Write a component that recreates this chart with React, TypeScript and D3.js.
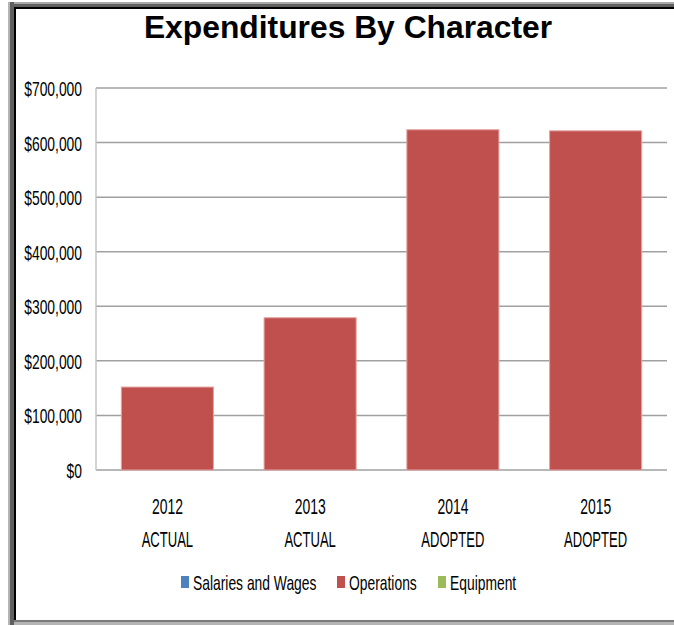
import React from "react";
import * as d3 from "d3";

const categories = ["2012 ACTUAL", "2013 ACTUAL", "2014 ADOPTED", "2015 ADOPTED"];
const seriesNames = ["Salaries and Wages", "Operations", "Equipment"];
const salaries = [0, 0, 0, 0];
const operations = [152000, 279000, 623500, 621500];
const equipment = [0, 0, 0, 0];
const yTicks = [0, 100000, 200000, 300000, 400000, 500000, 600000, 700000];
const colors = ["#4F81BD", "#C0504D", "#9BBB59"];

const W = 674;
const H = 625;
const M = { left: 96, right: 667, top: 88, bottom: 470 };
const FONT = "'Liberation Sans', Arial, sans-serif";

export default function App() {
  const rows = categories.map((c, i) => ({
    cat: c,
    [seriesNames[0]]: salaries[i],
    [seriesNames[1]]: operations[i],
    [seriesNames[2]]: equipment[i],
  }));
  const stacked = d3.stack<any>().keys(seriesNames)(rows);

  const x = d3
    .scaleBand<string>()
    .domain(categories)
    .range([M.left, M.right])
    .paddingInner(0.355)
    .paddingOuter(0.1775);
  const y = d3.scaleLinear().domain([0, 700000]).range([M.bottom, M.top]);
  const fmt = (v: number) => "$" + d3.format(",")(v);

  const legendX = [181, 337, 438];

  return (
    <svg
      width={W}
      height={H}
      style={{ position: "absolute", left: 0, top: 0, background: "#fff" }}
    >
      {/* frame */}
      <rect x={0} y={0} width={W} height={H} fill="#fff" />
      <rect x={10} y={2} width={W - 10} height={2} fill="#a8a8a8" />
      <rect x={10} y={4} width={W - 10} height={3} fill="#606060" />
      <rect x={14} y={7} width={W - 14} height={2} fill="#000" />
      <rect x={8} y={2} width={2} height={H - 2} fill="#b4b4b4" />
      <rect x={10} y={2} width={4} height={H - 2} fill="#606060" />
      <rect x={14} y={7} width={2} height={615} fill="#000" />
      <rect x={14} y={620} width={W - 14} height={2} fill="#7a7a7a" />
      <rect x={14} y={622} width={W - 14} height={3} fill="#b4b4b4" />

      {/* title */}
      <text
        x={348}
        y={38}
        textAnchor="middle"
        fontFamily="'Liberation Sans', Arial, sans-serif"
        fontWeight="bold"
        fontSize={31.8}
        fill="#000"
      >
        Expenditures By Character
      </text>

      {/* gridlines */}
      {yTicks.map((t) => (
        <line
          key={"g" + t}
          x1={M.left}
          x2={M.right}
          y1={y(t)}
          y2={y(t)}
          stroke="#a0a0a0"
          strokeWidth={1.5}
        />
      ))}
      <line x1={M.left} x2={M.left} y1={M.top} y2={M.bottom} stroke="#c4c4c4" strokeWidth={1.5} />

      {/* y labels */}
      {yTicks.map((t) => (
        <text
          key={"t" + t}
          transform={`translate(82,${y(t) + 8}) scale(0.66,1)`}
          textAnchor="end"
          fontFamily={FONT}
          fontSize={21}
          fill="#000"
        >
          {fmt(t)}
        </text>
      ))}

      {/* bars */}
      {stacked.map((s, si) => (
        <g key={s.key} fill={colors[si]}>
          {s.map((d, i) =>
            d[1] - d[0] > 0 ? (
              <rect
                key={i}
                x={x(categories[i])!}
                width={x.bandwidth()}
                y={y(d[1])}
                height={y(d[0]) - y(d[1])}
                stroke="#E3A3A1"
                strokeWidth={1}
              />
            ) : null
          )}
        </g>
      ))}

      {/* x labels */}
      {categories.map((c) => {
        const [l1, l2] = c.split(" ");
        const cx = x(c)! + x.bandwidth() / 2;
        return (
          <g key={c} fontFamily={FONT} fontSize={22.5} fill="#000" textAnchor="middle">
            <text transform={`translate(${cx},514) scale(0.62,1)`}>{l1}</text>
            <text transform={`translate(${cx},547) scale(0.58,1)`}>{l2}</text>
          </g>
        );
      })}

      {/* legend */}
      {seriesNames.map((n, i) => (
        <g key={n}>
          <rect x={legendX[i]} y={576} width={8} height={12} fill={colors[i]} />
          <text
            transform={`translate(${legendX[i] + 12},590) scale(0.66,1)`}
            fontFamily={FONT}
            fontSize={21}
            fill="#000"
          >
            {n}
          </text>
        </g>
      ))}
    </svg>
  );
}
